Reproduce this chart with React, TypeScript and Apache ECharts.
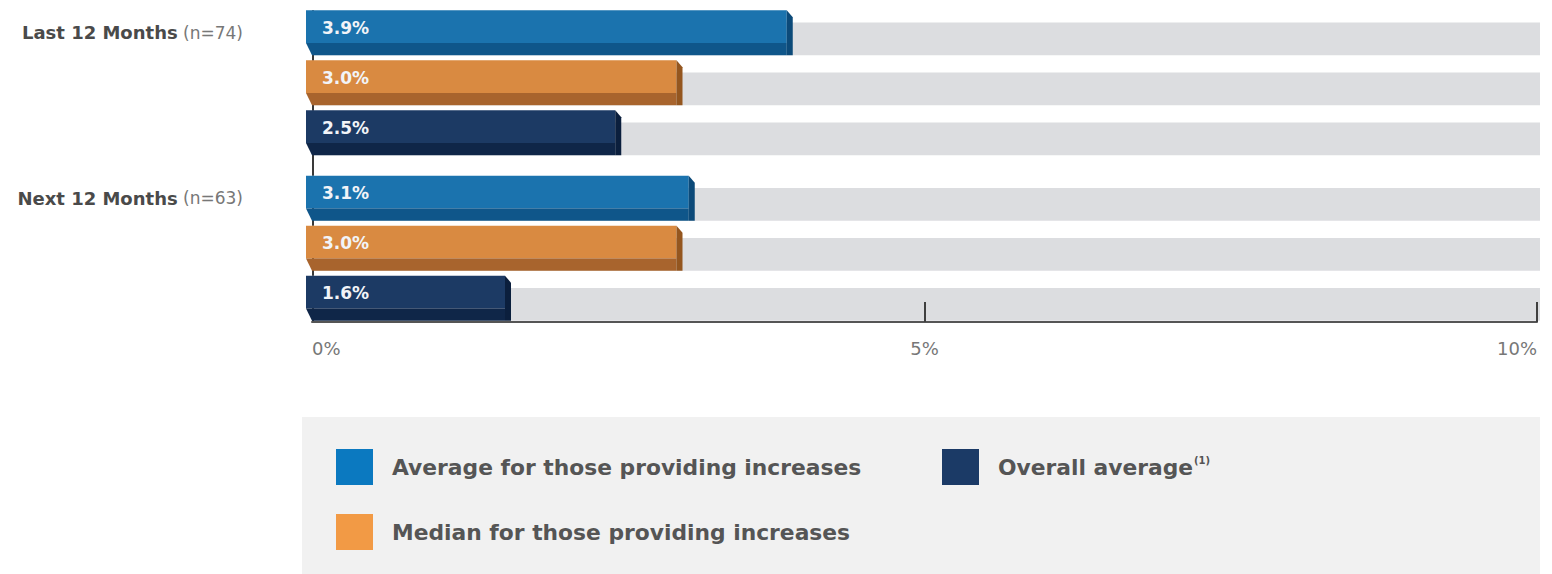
import React, { useEffect, useRef } from "react";
import * as echarts from "echarts";

const CATEGORIES = ["Last 12 Months (n=74)", "Next 12 Months (n=63)"];
const SERIES_NAMES = [
  "Average for those providing increases",
  "Median for those providing increases",
  "Overall average",
];
const AVERAGE_PROVIDING = [3.9, 3.1];
const MEDIAN_PROVIDING = [3.0, 3.0];
const OVERALL_AVERAGE = [2.5, 1.6];
const X_MIN = 0;
const X_MAX = 10;
const X_INTERVAL = 5;
const X_TICK_MARKS = [5, 10];

const SERIES_VALUES = [AVERAGE_PROVIDING, MEDIAN_PROVIDING, OVERALL_AVERAGE];

const FACE = ["#1b73ae", "#d98a41", "#1c3a64"];
const STRIP = ["#0f568a", "#a8642d", "#0f2648"];
const SIDE = ["#0c4a79", "#94561f", "#0b1f3d"];
const LEGEND_COLORS = ["#0b79c0", "#f29a45", "#1b3a66"];

const FONT = "'DejaVu Sans', Verdana, sans-serif";
const PITCH_RATIO = 50 / 165.5;
const BAR_RATIO = 45 / 165.5;

function makeRenderItem(s: number) {
  return (params: any, api: any) => {
    const v = api.value(0);
    const cat = api.value(1);
    const c0 = api.coord([X_MIN, cat]);
    const cv = api.coord([v, cat]);
    const cmax = api.coord([X_MAX, cat]);
    const band = api.size([0, 1])[1];
    const pitch = band * PITCH_RATIO;
    const h = band * BAR_RATIO;
    const top = c0[1] + (s - 1) * pitch - h / 2;
    const bottom = top + h;
    const x0 = c0[0] - 6;
    const xf = cv[0] - 3;
    const faceBottom = top + h * 0.73;
    const bgTop = top + h * 0.27;
    let lineEnd = top + pitch;
    if (s === 2) {
      lineEnd = cat < CATEGORIES.length - 1 ? top + band - 2 * pitch : bottom + 1;
    }
    return {
      type: "group",
      children: [
        {
          type: "rect",
          z2: 0,
          shape: { x: c0[0], y: bgTop, width: cmax[0] - c0[0] + 3, height: bottom - bgTop },
          style: { fill: "#dcdde0" },
        },
        {
          type: "line",
          z2: 1,
          shape: { x1: c0[0] + 1, y1: top, x2: c0[0] + 1, y2: lineEnd },
          style: { stroke: "#3a3a3a", lineWidth: 2 },
        },
        {
          type: "polygon",
          z2: 3,
          shape: {
            points: [
              [x0, top],
              [xf, top],
              [xf, faceBottom],
              [x0, faceBottom],
            ],
          },
          style: { fill: FACE[s] },
        },
        {
          type: "polygon",
          z2: 3,
          shape: {
            points: [
              [x0, faceBottom],
              [xf, faceBottom],
              [xf, bottom],
              [x0 + 6, bottom],
            ],
          },
          style: { fill: STRIP[s] },
        },
        {
          type: "polygon",
          z2: 3,
          shape: {
            points: [
              [xf, top],
              [xf + 6, top + 7],
              [xf + 6, bottom],
              [xf, bottom],
            ],
          },
          style: { fill: SIDE[s] },
        },
        {
          type: "text",
          z2: 4,
          style: {
            text: v.toFixed(1) + "%",
            x: x0 + 16,
            y: top + (faceBottom - top) / 2 + 1,
            fill: "#f2f4f8",
            fontSize: 17,
            fontWeight: "bold",
            fontFamily: FONT,
            align: "left",
            verticalAlign: "middle",
          },
        },
      ],
    };
  };
}

export default function App() {
  const ref = useRef<HTMLDivElement>(null);

  useEffect(() => {
    document.body.style.margin = "0";
    if (!ref.current) return;
    const chart = echarts.init(ref.current, null, { renderer: "svg" });

    const legendText = {
      color: "#555555",
      fontSize: 21.8,
      fontWeight: "bold",
      fontFamily: FONT,
      padding: [0, 0, 0, 14],
      rich: {
        t: { color: "#555555", fontSize: 21.8, fontWeight: "bold", fontFamily: FONT },
        sup: {
          color: "#555555",
          fontSize: 10,
          fontWeight: "bold",
          fontFamily: FONT,
          padding: [0, 0, 14, 1],
        },
      },
    };

    const mkLegend = (i: number, left: number, top: number) => ({
      left,
      top,
      padding: 0,
      itemWidth: 37,
      itemHeight: 36,
      icon: "rect",
      selectedMode: false,
      data: [{ name: SERIES_NAMES[i], itemStyle: { color: LEGEND_COLORS[i] } }],
      formatter: (name: string) =>
        name === SERIES_NAMES[2] ? `{t|${name}}{sup|(1)}` : `{t|${name}}`,
      textStyle: legendText,
    });

    chart.setOption({
      animation: false,
      backgroundColor: "#ffffff",
      graphic: [
        {
          type: "rect",
          left: 302,
          top: 417,
          z: -10,
          shape: { width: 1238, height: 157 },
          style: { fill: "#f1f1f1" },
        },
      ],
      legend: [mkLegend(0, 336, 449), mkLegend(2, 942, 449), mkLegend(1, 336, 514)],
      grid: { left: 312, right: 15, top: 0, height: 331, containLabel: false },
      xAxis: {
        type: "value",
        min: X_MIN,
        max: X_MAX,
        interval: X_INTERVAL,
        offset: -9,
        z: 5,
        axisLine: { show: true, lineStyle: { color: "#555555", width: 2 } },
        axisTick: {
          show: true,
          inside: true,
          length: 20,
          customValues: X_TICK_MARKS,
          lineStyle: { color: "#3f3f3f", width: 2 },
        },
        splitLine: { show: false },
        axisLabel: {
          formatter: "{value}%",
          color: "#777777",
          fontSize: 18,
          fontFamily: FONT,
          margin: 17,
          alignMinLabel: "left",
          alignMaxLabel: "right",
        },
      },
      yAxis: {
        type: "category",
        inverse: true,
        data: CATEGORIES,
        axisLine: { show: false },
        axisTick: { show: false },
        splitLine: { show: false },
        axisLabel: {
          margin: 69,
          padding: [0, 0, 100, 0],
          formatter: (val: string) => {
            const idx = val.indexOf(" (");
            return `{b|${val.slice(0, idx)}}{r|${val.slice(idx)}}`;
          },
          rich: {
            b: { color: "#4a4a4a", fontSize: 18, fontWeight: "bold", fontFamily: FONT },
            r: { color: "#777777", fontSize: 17, fontFamily: FONT },
          },
        },
      },
      series: SERIES_NAMES.map((name, s) => ({
        name,
        type: "custom",
        itemStyle: { color: FACE[s] },
        encode: { x: 0, y: 1 },
        renderItem: makeRenderItem(s),
        data: SERIES_VALUES[s].map((v, i) => [v, i]),
      })),
    });

    return () => chart.dispose();
  }, []);

  return <div ref={ref} style={{ width: 1552, height: 574 }} />;
}
